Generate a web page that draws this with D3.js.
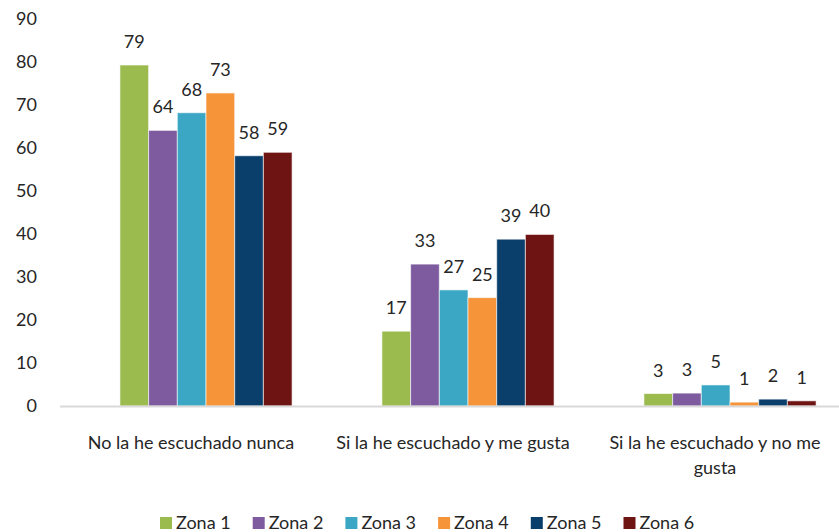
<!DOCTYPE html>
<html>
<head>
<meta charset="utf-8">
<script src="https://cdn.jsdelivr.net/npm/d3@7"></script>
<style>
  body { margin: 0; background: #fff; }
  text { font-family: Lato, "Open Sans", sans-serif; fill: #262626; }
</style>
</head>
<body>
<svg id="chart"></svg>
<script>
// Data
const categories = ["No la he escuchado nunca", "Si la he escuchado y me gusta", "Si la he escuchado y no me gusta"];
const zones = ["Zona 1", "Zona 2", "Zona 3", "Zona 4", "Zona 5", "Zona 6"];
const zona1 = [79.3, 17.4, 2.9];
const zona2 = [64.1, 33.0, 3.0];
const zona3 = [68.2, 27.0, 4.9];
const zona4 = [72.8, 25.2, 0.9];
const zona5 = [58.2, 38.8, 1.6];
const zona6 = [59.0, 39.9, 1.2];
// the printed (rounded) labels above each bar
const labels = [
  [79, 17, 3],
  [64, 33, 3],
  [68, 27, 5],
  [73, 25, 1],
  [58, 39, 2],
  [59, 40, 1]
];
const yTicks = [0, 10, 20, 30, 40, 50, 60, 70, 80, 90];

const series = [zona1, zona2, zona3, zona4, zona5, zona6];
const colors = ["#9BBB4F", "#7D5B9E", "#3BA7C4", "#F59438", "#0A3F6C", "#6E1413"];

const svgWidth = 839;
const svgHeight = 532;
const fontSize = "18px";

const svg = d3.select("#chart")
  .attr("width", svgWidth)
  .attr("height", svgHeight);

// Scales
const x0 = d3.scaleBand()
  .domain(categories)
  .range([75, 861])
  .paddingInner(0.343)
  .paddingOuter(0.1715);

const x1 = d3.scaleBand()
  .domain(zones)
  .range([0, x0.bandwidth()]);

const y = d3.scaleLinear()
  .domain([0, 90])
  .range([406, 19]);

// Y tick labels
svg.selectAll(".ytick")
  .data(yTicks)
  .enter().append("text")
  .attr("class", "ytick")
  .attr("x", 37)
  .attr("y", d => y(d))
  .attr("dy", "0.36em")
  .attr("text-anchor", "end")
  .style("font-size", fontSize)
  .text(d => d);

// Bars
const rows = [];
categories.forEach((c, ci) => {
  zones.forEach((z, zi) => {
    rows.push({ cat: c, zone: z, value: series[zi][ci], label: labels[zi][ci], color: colors[zi] });
  });
});

svg.selectAll("rect.bar")
  .data(rows)
  .enter().append("rect")
  .attr("class", "bar")
  .attr("x", d => x0(d.cat) + x1(d.zone))
  .attr("y", d => y(d.value))
  .attr("width", x1.bandwidth())
  .attr("height", d => y(0) - y(d.value))
  .attr("fill", d => d.color)
  .attr("stroke", "rgba(255,255,255,0.6)")
  .attr("stroke-width", 1);

// Baseline
svg.append("line")
  .attr("x1", 60)
  .attr("x2", svgWidth)
  .attr("y1", y(0) + 0.5)
  .attr("y2", y(0) + 0.5)
  .attr("stroke", "#d9d9d9")
  .attr("stroke-width", 2);

// Value labels
svg.selectAll("text.val")
  .data(rows)
  .enter().append("text")
  .attr("class", "val")
  .attr("x", d => x0(d.cat) + x1(d.zone) + x1.bandwidth() / 2)
  .attr("y", d => y(d.value) - 17)
  .attr("text-anchor", "middle")
  .style("font-size", fontSize)
  .text(d => d.label);

// Category labels (wrapped like the original)
const catLines = [["No la he escuchado nunca"], ["Si la he escuchado y me gusta"], ["Si la he escuchado y no me", "gusta"]];
const catText = svg.selectAll("text.cat")
  .data(categories)
  .enter().append("text")
  .attr("class", "cat")
  .attr("text-anchor", "middle")
  .style("font-size", fontSize);

catText.each(function(d, i) {
  const t = d3.select(this);
  catLines[i].forEach((line, li) => {
    t.append("tspan")
      .attr("x", x0(d) + x0.bandwidth() / 2 - 15)
      .attr("y", 449 + li * 25)
      .text(line);
  });
});

// Legend
const legend = svg.selectAll("g.legend")
  .data(zones)
  .enter().append("g")
  .attr("class", "legend")
  .attr("transform", (d, i) => `translate(${160 + i * 92.7}, 517)`);

legend.append("rect")
  .attr("width", 12)
  .attr("height", 12)
  .attr("fill", (d, i) => colors[i]);

legend.append("text")
  .attr("x", 16)
  .attr("y", 6)
  .attr("dy", "0.36em")
  .style("font-size", fontSize)
  .text(d => d);
</script>
</body>
</html>
